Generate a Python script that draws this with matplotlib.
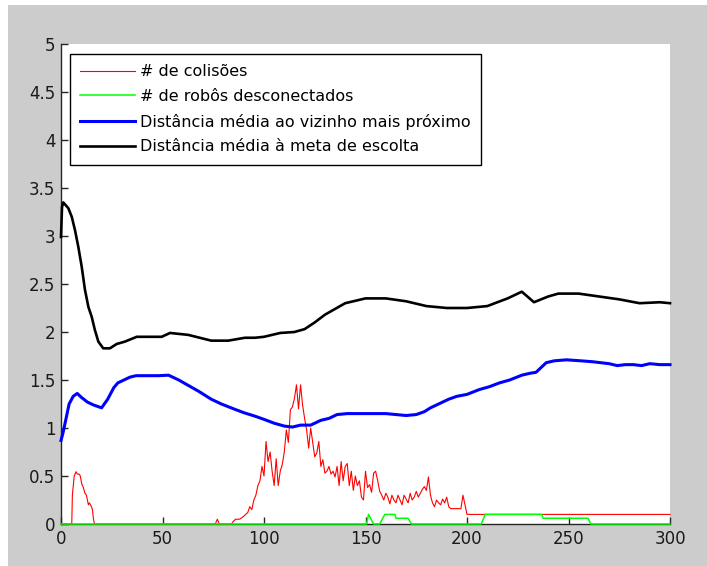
import matplotlib
matplotlib.use("Agg")
import matplotlib.pyplot as plt
from matplotlib.patches import Rectangle
from matplotlib.ticker import FormatStrFormatter

# --- series data -----------------------------------------------------------
labels = ["# de colisões", "# de robôs desconectados",
          "Distância média ao vizinho mais próximo",
          "Distância média à meta de escolta"]

collisions_x = [0, 5.3, 5.6, 6.5, 7.4, 8, 9, 9.5, 10.2, 11, 11.8, 12.5, 13, 13.5,
                14, 14.5, 15, 15.5, 16, 16.5, 76, 77, 78, 84,
                85, 86, 88, 90, 91, 92, 93, 94, 95, 96, 97, 98, 99, 100,
                101, 102, 103, 104, 105, 106, 107, 108, 109, 110,
                111, 112, 113, 114, 115, 116, 117, 118, 119, 120,
                121, 122, 123, 124, 125, 126, 127, 128, 129, 130,
                131, 132, 133, 134, 135, 136, 137, 138, 139, 140,
                141, 142, 143, 144, 145, 146, 147, 148, 149, 150,
                151, 152, 153, 154, 155, 156, 157, 158, 159, 160,
                161, 162, 163, 164, 165, 166, 167, 168, 169, 170,
                171, 172, 173, 174, 175, 176, 177, 178, 179, 180,
                181, 182, 183, 184, 185, 186, 187, 188, 189, 190,
                191, 192, 193, 194, 195, 196, 197, 198, 199, 200, 300]
collisions_y = [0, 0, 0.3, 0.5, 0.545, 0.52, 0.52, 0.5, 0.42, 0.38, 0.32, 0.3, 0.25, 0.2,
                0.22, 0.2, 0.18, 0.15, 0.05, 0, 0, 0.05, 0, 0,
                0.03, 0.05, 0.05, 0.08, 0.1, 0.12, 0.18, 0.15, 0.25, 0.3, 0.4, 0.45, 0.6, 0.5,
                0.86, 0.65, 0.75, 0.55, 0.4, 0.68, 0.4, 0.55, 0.62, 0.75,
                0.98, 0.85, 1.19, 1.22, 1.31, 1.45, 1.2, 1.45, 1.24, 1.1,
                0.98, 0.79, 1.0, 0.85, 0.7, 0.74, 0.86, 0.6, 0.67, 0.53,
                0.55, 0.6, 0.52, 0.55, 0.49, 0.6, 0.4, 0.65, 0.45, 0.6,
                0.63, 0.4, 0.55, 0.35, 0.5, 0.4, 0.45, 0.28, 0.25, 0.55,
                0.38, 0.41, 0.33, 0.53, 0.55, 0.45, 0.34, 0.3, 0.25, 0.32,
                0.28, 0.21, 0.3, 0.25, 0.22, 0.3, 0.25, 0.2, 0.3, 0.26,
                0.22, 0.32, 0.25, 0.28, 0.34, 0.28, 0.32, 0.36, 0.39, 0.35,
                0.49, 0.3, 0.22, 0.18, 0.25, 0.22, 0.2, 0.26, 0.22, 0.28,
                0.18, 0.16, 0.16, 0.16, 0.16, 0.16, 0.16, 0.3, 0.2, 0.1, 0.1]

disconnected_x = [0, 150.5, 151.5, 154, 157, 159.5, 164.5, 165, 171, 172.6,
                  207, 209, 236.8, 237.5, 259.6, 261, 300]
disconnected_y = [0, 0, 0.1, 0, 0, 0.1, 0.1, 0.06, 0.06, 0,
                  0, 0.1, 0.1, 0.06, 0.06, 0, 0]

neighbor_x = [0, 1, 2, 4, 6, 8, 10, 13, 16, 20,
              23, 26, 28, 31, 34, 37, 42, 48, 53, 58,
              63, 68, 74, 79, 85, 90, 96, 100, 105, 110,
              114, 118, 123, 128, 132, 136, 141, 146, 153, 160,
              165, 170, 175, 179, 182, 186, 191, 195, 200, 206,
              211, 216, 221, 227, 231, 234, 237, 239, 243, 249,
              256, 262, 266, 270, 274, 278, 282, 286, 290, 295, 300]
neighbor_y = [0.87, 0.95, 1.05, 1.25, 1.33, 1.36, 1.32, 1.27, 1.24, 1.21,
              1.3, 1.42, 1.47, 1.5, 1.53, 1.545, 1.545, 1.545, 1.55, 1.5,
              1.44, 1.38, 1.3, 1.25, 1.2, 1.16, 1.12, 1.09, 1.05, 1.02,
              1.01, 1.03, 1.03, 1.08, 1.1, 1.14, 1.15, 1.15, 1.15, 1.15,
              1.14, 1.13, 1.14, 1.17, 1.21, 1.25, 1.3, 1.33, 1.35, 1.4,
              1.43, 1.47, 1.5, 1.55, 1.57, 1.58, 1.64, 1.68, 1.7, 1.71,
              1.7, 1.69, 1.68, 1.67, 1.65, 1.66, 1.66, 1.65, 1.67, 1.66, 1.66]

goal_x = [0, 0.5, 1.1, 3.6, 5.3, 6.9, 8.5, 10.2, 11.8, 13.5,
          15.1, 16.7, 18.4, 20.8, 24.1, 27.4, 31.5, 37.3, 49.6, 53.7,
          62.7, 74, 82.4, 90.6, 95.6, 100, 108, 115, 120, 125,
          130, 140, 150, 160, 170, 180, 190, 200, 210, 220,
          227, 233, 240, 245, 255, 265, 275, 285, 295, 300]
goal_y = [2.99, 3.3, 3.35, 3.29, 3.2, 3.06, 2.89, 2.68, 2.44, 2.26,
          2.16, 2.02, 1.9, 1.83, 1.83, 1.875, 1.9, 1.95, 1.95, 1.99,
          1.97, 1.91, 1.91, 1.94, 1.94, 1.95, 1.99, 2.0, 2.03, 2.1,
          2.18, 2.3, 2.35, 2.35, 2.32, 2.27, 2.25, 2.25, 2.27, 2.35,
          2.42, 2.31, 2.37, 2.4, 2.4, 2.37, 2.34, 2.3, 2.31, 2.3]

x_ticks = [0, 50, 100, 150, 200, 250, 300]
y_ticks = [0, 0.5, 1, 1.5, 2, 2.5, 3, 3.5, 4, 4.5, 5]

# --- figure ------------------------------------------------------------------
W, H = 707, 566
fig = plt.figure(figsize=(W / 100, H / 100), dpi=100, facecolor="white")
fig.patches.append(Rectangle((8 / W, 0), 1 - 8 / W, 1 - 5 / H,
                             transform=fig.transFigure, facecolor="#cccccc",
                             edgecolor="none", zorder=-10))

ax = fig.add_axes([61 / W, 1 - 524 / H, (670 - 61) / W, (524 - 44) / H])
ax.set_facecolor("white")

styles = [("#ff0000", 0.8), ("#00ff00", 1.1), ("#0000ff", 2.2), ("#000000", 1.9)]
series = [(collisions_x, collisions_y), (disconnected_x, disconnected_y),
          (neighbor_x, neighbor_y), (goal_x, goal_y)]
for (xs, ys), (col, lw), lab in zip(series, styles, labels):
    ax.plot(xs, ys, color=col, lw=lw, label=lab, zorder=3, clip_on=False)

ax.set_xlim(0, 300)
ax.set_ylim(0, 5)
ax.set_xticks(x_ticks)
ax.set_yticks(y_ticks)
ax.yaxis.set_major_formatter(FormatStrFormatter("%g"))
for s in ("top", "right"):
    ax.spines[s].set_visible(False)
for s in ("left", "bottom"):
    ax.spines[s].set_color("#262626")
    ax.spines[s].set_linewidth(1.0)
ax.tick_params(direction="in", length=5, width=1, color="#262626",
               labelsize=12, labelcolor="#1a1a1a", pad=4)

leg = ax.legend(loc="upper left", bbox_to_anchor=(9 / 609, (524 - 54) / 480),
                borderaxespad=0, fancybox=False, framealpha=1, edgecolor="black",
                fontsize=11.5, handlelength=3.4, handletextpad=0.32,
                labelspacing=0.6, borderpad=0.65)
leg.get_frame().set_linewidth(1.0)

fig.savefig("out.png", dpi=100, facecolor=fig.get_facecolor())
